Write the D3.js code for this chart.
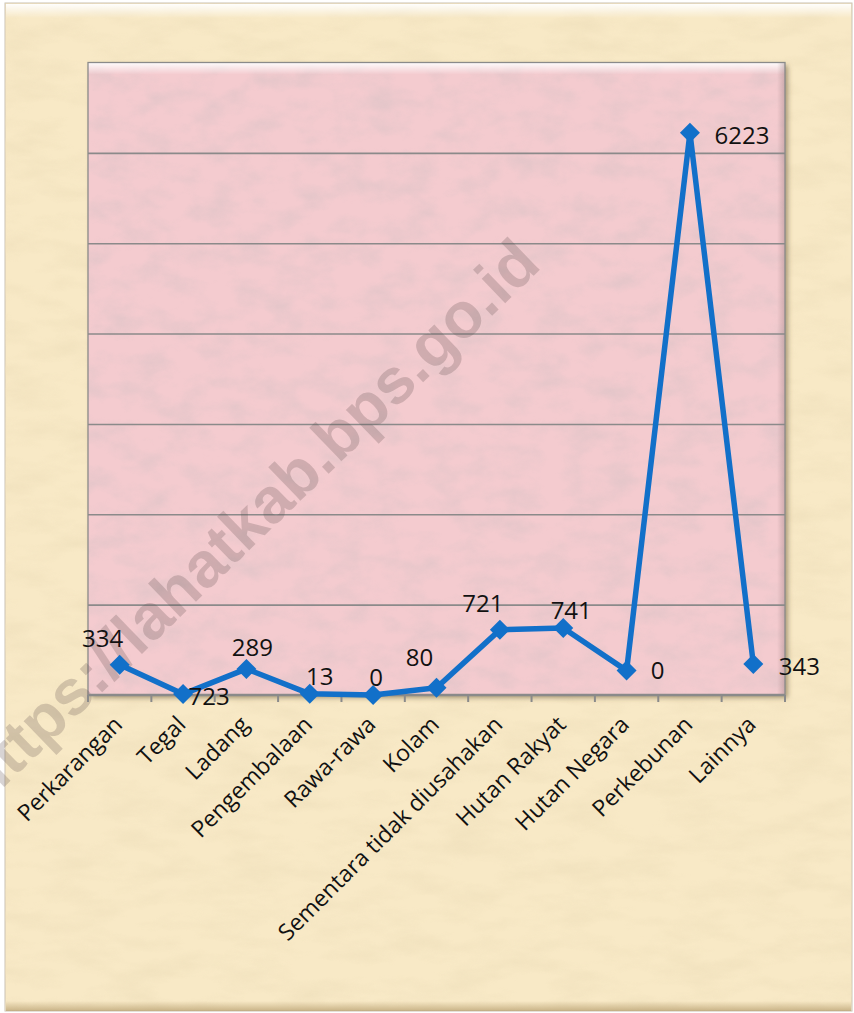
<!DOCTYPE html>
<html>
<head>
<meta charset="utf-8">
<script src="https://cdn.jsdelivr.net/npm/d3@7"></script>
<style>
  body { margin: 0; background: #fff; }
  svg { display: block; }
</style>
</head>
<body>
<div id="chart"></div>
<script>
// categories along the x axis
var categories = ["Perkarangan", "Tegal", "Ladang", "Pengembalaan", "Rawa-rawa", "Kolam",
  "Sementara tidak diusahakan", "Hutan Rakyat", "Hutan Negara", "Perkebunan", "Lainnya"];
// plotted values
var values = [334, 10, 289, 13, 0, 80, 721, 741, 270, 6223, 343];
// data label texts as printed on the chart
var labels = ["334", "723", "289", "13", "0", "80", "721", "741", "0", "6223", "343"];
// y gridline values
var yTicks = [0, 1000, 2000, 3000, 4000, 5000, 6000, 7000];

// label placement relative to each marker (dx, dy)
var labelOffsets = [[-17, -18], [26, 11], [6, -13], [10, -9], [3, -9], [-17, -22],
  [-17, -18], [8, -9], [31, 8], [52, 11], [46, 11]];

var W = 854, H = 1013;
var plot = { left: 88, right: 785, top: 62.5, bottom: 695 };
var lineColor = "#1270c9";

var svg = d3.select("#chart").append("svg")
  .attr("width", W)
  .attr("height", H);

var defs = svg.append("defs");

// paper texture for the outer background
var fPaper = defs.append("filter").attr("id", "paperTex")
  .attr("x", 0).attr("y", 0).attr("width", 1).attr("height", 1);
fPaper.append("feTurbulence").attr("type", "fractalNoise")
  .attr("baseFrequency", "0.018 0.05").attr("numOctaves", 4).attr("seed", 7);
fPaper.append("feColorMatrix").attr("type", "matrix")
  .attr("values", "0 0 0 0 0.86  0 0 0 0 0.74  0 0 0 0 0.50  1.6 0 0 0 -0.62");

// texture for the pink plot area
var fPink = defs.append("filter").attr("id", "pinkTex")
  .attr("x", 0).attr("y", 0).attr("width", 1).attr("height", 1);
fPink.append("feTurbulence").attr("type", "fractalNoise")
  .attr("baseFrequency", "0.03 0.045").attr("numOctaves", 4).attr("seed", 11);
fPink.append("feColorMatrix").attr("type", "matrix")
  .attr("values", "0 0 0 0 0.72  0 0 0 0 0.55  0 0 0 0 0.57  1.7 0 0 0 -0.68");

var shadow = defs.append("filter").attr("id", "plotShadow")
  .attr("x", -0.05).attr("y", -0.05).attr("width", 1.1).attr("height", 1.1);
shadow.append("feDropShadow").attr("dx", 3).attr("dy", 3).attr("stdDeviation", 2.5)
  .attr("flood-color", "#6b5a3a").attr("flood-opacity", 0.55);

var gTop = defs.append("linearGradient").attr("id", "bevelTop")
  .attr("x1", 0).attr("y1", 0).attr("x2", 0).attr("y2", 1);
gTop.append("stop").attr("offset", "0%").attr("stop-color", "#fff").attr("stop-opacity", 0.95);
gTop.append("stop").attr("offset", "100%").attr("stop-color", "#fff").attr("stop-opacity", 0);

var gBot = defs.append("linearGradient").attr("id", "bevelBot")
  .attr("x1", 0).attr("y1", 0).attr("x2", 0).attr("y2", 1);
gBot.append("stop").attr("offset", "0%").attr("stop-color", "#b59c6c").attr("stop-opacity", 0);
gBot.append("stop").attr("offset", "100%").attr("stop-color", "#b59c6c").attr("stop-opacity", 0.7);

var gRight = defs.append("linearGradient").attr("id", "bevelRight")
  .attr("x1", 0).attr("y1", 0).attr("x2", 1).attr("y2", 0);
gRight.append("stop").attr("offset", "0%").attr("stop-color", "#8a6f70").attr("stop-opacity", 0);
gRight.append("stop").attr("offset", "100%").attr("stop-color", "#8a6f70").attr("stop-opacity", 0.35);

// outer frame
svg.append("rect").attr("x", 0).attr("y", 0).attr("width", W).attr("height", H).attr("fill", "#fff");
svg.append("rect").attr("x", 5).attr("y", 3).attr("width", W - 7).attr("height", H - 5)
  .attr("fill", "#f8e9c6").attr("stroke", "#c9c2b4").attr("stroke-width", 1);
svg.append("rect").attr("x", 5).attr("y", 3).attr("width", W - 7).attr("height", H - 5)
  .attr("filter", "url(#paperTex)").attr("opacity", 0.85);
svg.append("rect").attr("x", 6).attr("y", 4).attr("width", W - 9).attr("height", 14)
  .attr("fill", "url(#bevelTop)");
svg.append("rect").attr("x", 6).attr("y", H - 12).attr("width", W - 9).attr("height", 10)
  .attr("fill", "url(#bevelBot)");

var x = d3.scaleBand()
  .domain(categories)
  .range([plot.left, plot.right])
  .padding(0);

var y = d3.scaleLinear()
  .domain([0, 7000])
  .range([plot.bottom, plot.top]);

var pw = plot.right - plot.left, ph = plot.bottom - plot.top;

// plot area
svg.append("rect").attr("x", plot.left).attr("y", plot.top).attr("width", pw).attr("height", ph)
  .attr("fill", "#f4cbcf").attr("filter", "url(#plotShadow)");
svg.append("rect").attr("x", plot.left).attr("y", plot.top).attr("width", pw).attr("height", ph)
  .attr("filter", "url(#pinkTex)").attr("opacity", 0.75);
svg.append("rect").attr("x", plot.left).attr("y", plot.top).attr("width", pw).attr("height", 12)
  .attr("fill", "url(#bevelTop)");
svg.append("rect").attr("x", plot.right - 8).attr("y", plot.top).attr("width", 8).attr("height", ph)
  .attr("fill", "url(#bevelRight)");

// gridlines
svg.append("g")
  .attr("class", "grid")
  .attr("transform", "translate(" + plot.left + ",0)")
  .call(d3.axisLeft(y).tickValues(yTicks.slice(1, -1)).tickSize(-pw).tickFormat(""))
  .call(function(g) { g.select(".domain").remove(); })
  .selectAll("line")
  .attr("stroke", "#8b8a8a")
  .attr("stroke-width", 1.6);

svg.append("rect").attr("x", plot.left).attr("y", plot.top).attr("width", pw).attr("height", ph)
  .attr("fill", "none").attr("stroke", "#8a8a8a").attr("stroke-width", 1.3);

// watermark
svg.append("text")
  .attr("transform", "translate(264,536) rotate(-44)")
  .attr("text-anchor", "middle")
  .style("font-family", "'Liberation Sans', Arial, sans-serif")
  .style("font-weight", "bold")
  .style("font-size", "64px")
  .attr("fill", "#5a4a4a")
  .attr("fill-opacity", 0.24)
  .text("https://lahatkab.bps.go.id");

// x axis with ticks at category boundaries
var bounds = categories.map(function(d) { return x(d); }).concat([plot.right]);
var xAxis = svg.append("g").attr("class", "x axis");
xAxis.append("line")
  .attr("x1", plot.left).attr("x2", plot.right)
  .attr("y1", plot.bottom).attr("y2", plot.bottom)
  .attr("stroke", "#8a8a8a").attr("stroke-width", 2.5);
xAxis.selectAll(".tick")
  .data(bounds)
  .enter().append("line")
  .attr("x1", function(d) { return d; }).attr("x2", function(d) { return d; })
  .attr("y1", plot.bottom).attr("y2", plot.bottom + 7)
  .attr("stroke", "#8a8a8a").attr("stroke-width", 2);

xAxis.selectAll("text")
  .data(categories)
  .enter().append("text")
  .attr("transform", function(d) {
    return "translate(" + (x(d) + x.bandwidth() / 2 + 4) + "," + (plot.bottom + 31) + ") rotate(-45)";
  })
  .attr("text-anchor", "end")
  .style("font-family", "'Open Sans', sans-serif")
  .style("font-size", "23px")
  .attr("fill", "#111")
  .text(function(d) { return d; });

// series line
var cx = function(i) { return x(categories[i]) + x.bandwidth() / 2; };
var line = d3.line()
  .x(function(d, i) { return cx(i); })
  .y(function(d) { return y(d); });

svg.append("path")
  .datum(values)
  .attr("fill", "none")
  .attr("stroke", lineColor)
  .attr("stroke-width", 5.5)
  .attr("stroke-linejoin", "round")
  .attr("d", line);

svg.selectAll(".marker")
  .data(values)
  .enter().append("path")
  .attr("class", "marker")
  .attr("d", d3.symbol().type(d3.symbolSquare).size(200))
  .attr("transform", function(d, i) { return "translate(" + cx(i) + "," + y(d) + ") rotate(45)"; })
  .attr("fill", lineColor);

// data labels
svg.selectAll(".dlabel")
  .data(values)
  .enter().append("text")
  .attr("class", "dlabel")
  .attr("x", function(d, i) { return cx(i) + labelOffsets[i][0]; })
  .attr("y", function(d, i) { return y(d) + labelOffsets[i][1]; })
  .attr("text-anchor", "middle")
  .style("font-family", "'Open Sans', sans-serif")
  .style("font-size", "24px")
  .attr("fill", "#111")
  .text(function(d, i) { return labels[i]; });
</script>
</body>
</html>
